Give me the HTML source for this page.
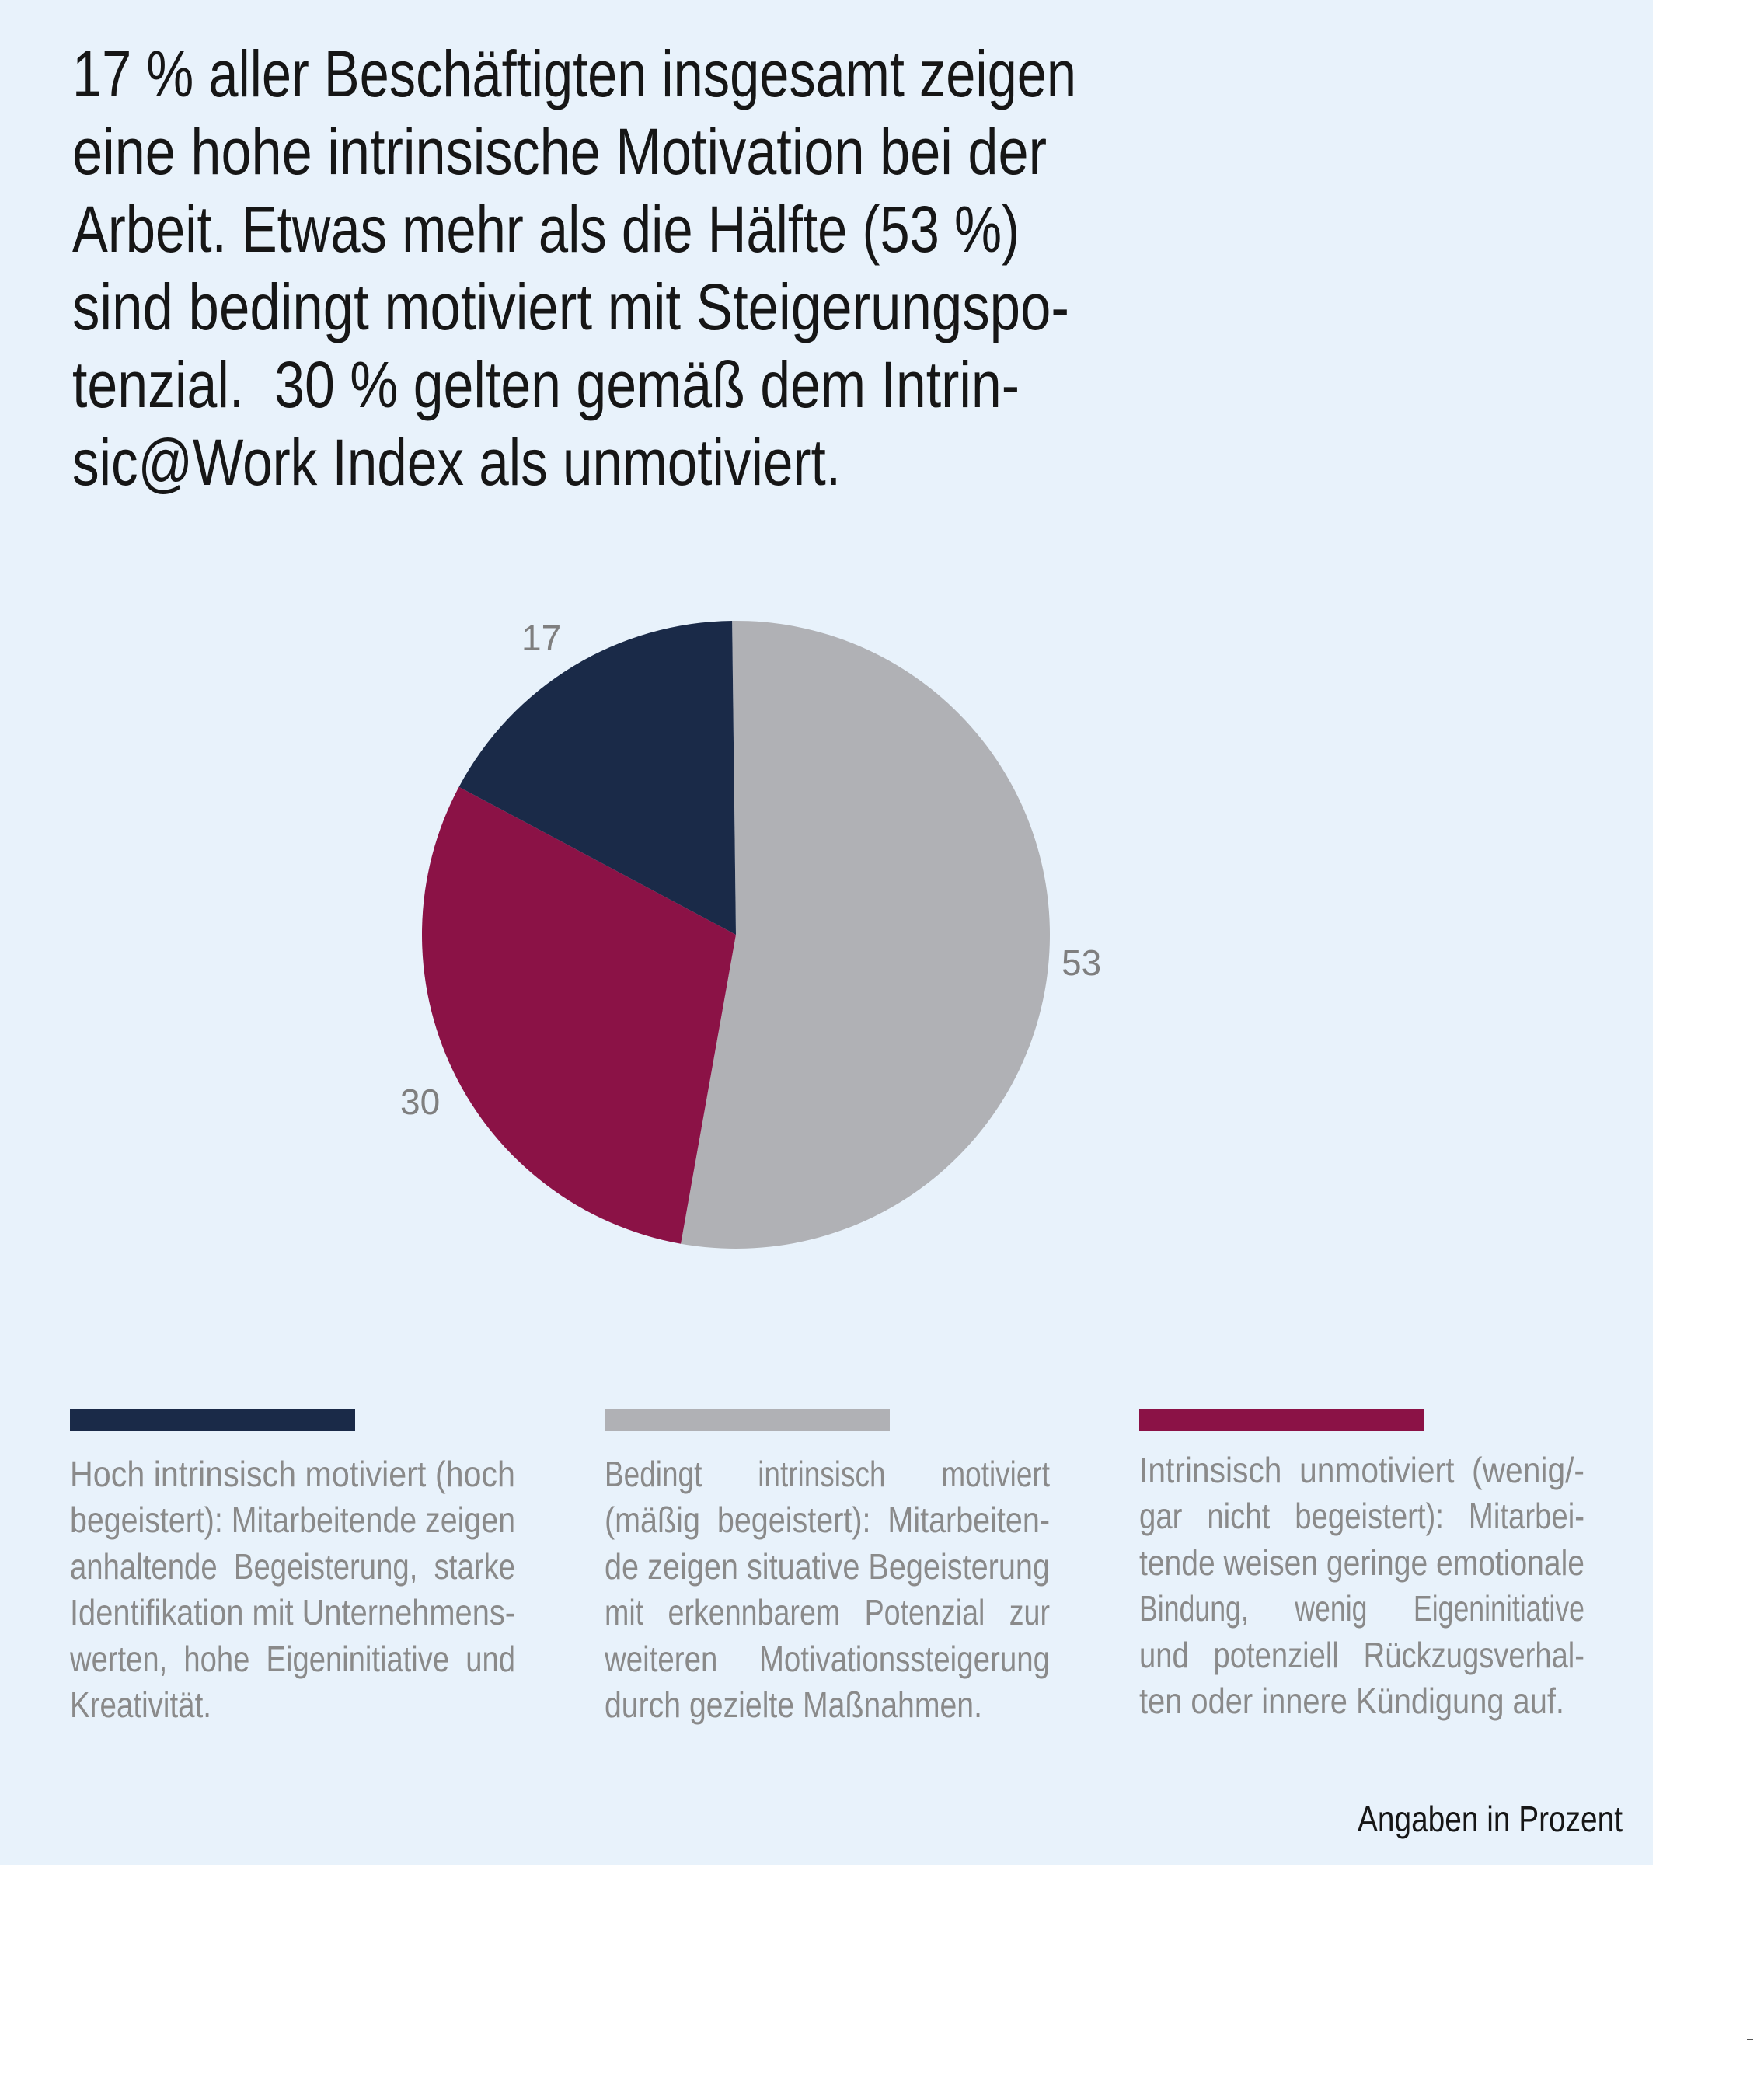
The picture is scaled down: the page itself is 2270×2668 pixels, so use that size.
<!DOCTYPE html>
<html><head><meta charset="utf-8"><style>
html,body{margin:0;padding:0;background:#fff;}
svg{display:block;}
text{white-space:pre;}
</style></head><body>
<svg width="2270" height="2668" viewBox="0 0 2270 2668" xmlns="http://www.w3.org/2000/svg" xml:space="preserve">
<rect x="0" y="0" width="2270" height="2668" fill="#ffffff"/>
<rect x="0" y="0" width="2127" height="2400" fill="#e8f2fb"/>
<rect x="2248" y="2624" width="8" height="2" fill="#555"/>
<g font-family="'Liberation Sans', sans-serif" font-size="84" fill="#161616">
<text x="93" y="124" textLength="1292" lengthAdjust="spacingAndGlyphs">17 % aller Beschäftigten insgesamt zeigen</text>
<text x="93" y="224" textLength="1254" lengthAdjust="spacingAndGlyphs">eine hohe intrinsische Motivation bei der</text>
<text x="93" y="324" textLength="1219" lengthAdjust="spacingAndGlyphs">Arbeit. Etwas mehr als die Hälfte (53 %)</text>
<text x="93" y="424" textLength="1283" lengthAdjust="spacingAndGlyphs">sind bedingt motiviert mit Steigerungspo-</text>
<text x="93" y="524" textLength="1219" lengthAdjust="spacingAndGlyphs">tenzial.  30 % gelten gemäß dem Intrin-</text>
<text x="93" y="624" textLength="989" lengthAdjust="spacingAndGlyphs">sic@Work Index als unmotiviert.</text>
</g>
<path d="M947,1203 L942.1,799 A404,404 0 1 1 876.1,1600.7 Z" fill="#b0b1b5"/>
<path d="M947,1203 L876.1,1600.7 A404,404 0 0 1 590.6,1012.7 Z" fill="#8b1246"/>
<path d="M947,1203 L590.6,1012.7 A404,404 0 0 1 942.1,799 Z" fill="#1a2a48"/>
<g font-family="'Liberation Sans', sans-serif" font-size="46" fill="#7f7f7f">
<text x="671" y="837">17</text>
<text x="1366" y="1255">53</text>
<text x="515" y="1434">30</text>
</g>
<rect x="90" y="1813" width="367" height="29" fill="#1a2a48"/>
<rect x="778" y="1813" width="367" height="29" fill="#b0b1b5"/>
<rect x="1466" y="1813" width="367" height="29" fill="#8b1246"/>
<g font-family="'Liberation Sans', sans-serif" font-size="46" fill="#8a8a8a">
<text x="90" y="1913" textLength="573" lengthAdjust="spacingAndGlyphs">Hoch intrinsisch motiviert (hoch</text>
<text x="90" y="1972" textLength="573" lengthAdjust="spacingAndGlyphs">begeistert): Mitarbeitende zeigen</text>
<text x="90" y="2032" textLength="573" lengthAdjust="spacingAndGlyphs">anhaltende  Begeisterung,  starke</text>
<text x="90" y="2091" textLength="573" lengthAdjust="spacingAndGlyphs">Identifikation mit Unternehmens-</text>
<text x="90" y="2151" textLength="573" lengthAdjust="spacingAndGlyphs">werten,  hohe  Eigeninitiative  und</text>
<text x="90" y="2210" textLength="182" lengthAdjust="spacingAndGlyphs">Kreativität.</text>

<text x="778" y="1913" textLength="573" lengthAdjust="spacingAndGlyphs">Bedingt       intrinsisch       motiviert</text>
<text x="778" y="1972" textLength="573" lengthAdjust="spacingAndGlyphs">(mäßig  begeistert):  Mitarbeiten-</text>
<text x="778" y="2032" textLength="573" lengthAdjust="spacingAndGlyphs">de zeigen situative Begeisterung</text>
<text x="778" y="2091" textLength="573" lengthAdjust="spacingAndGlyphs">mit   erkennbarem   Potenzial   zur</text>
<text x="778" y="2151" textLength="573" lengthAdjust="spacingAndGlyphs">weiteren     Motivationssteigerung</text>
<text x="778" y="2210" textLength="486" lengthAdjust="spacingAndGlyphs">durch gezielte Maßnahmen.</text>

<text x="1466" y="1908" textLength="573" lengthAdjust="spacingAndGlyphs">Intrinsisch  unmotiviert  (wenig/-</text>
<text x="1466" y="1967" textLength="573" lengthAdjust="spacingAndGlyphs">gar   nicht   begeistert):   Mitarbei-</text>
<text x="1466" y="2027" textLength="573" lengthAdjust="spacingAndGlyphs">tende weisen geringe emotionale</text>
<text x="1466" y="2086" textLength="573" lengthAdjust="spacingAndGlyphs">Bindung,      wenig      Eigeninitiative</text>
<text x="1466" y="2146" textLength="573" lengthAdjust="spacingAndGlyphs">und   potenziell   Rückzugsverhal-</text>
<text x="1466" y="2205" textLength="547" lengthAdjust="spacingAndGlyphs">ten oder innere Kündigung auf.</text>
</g>
<text x="1747" y="2357" font-family="'Liberation Sans', sans-serif" font-size="46" fill="#161616" textLength="341" lengthAdjust="spacingAndGlyphs">Angaben in Prozent</text>
</svg>
</body></html>
